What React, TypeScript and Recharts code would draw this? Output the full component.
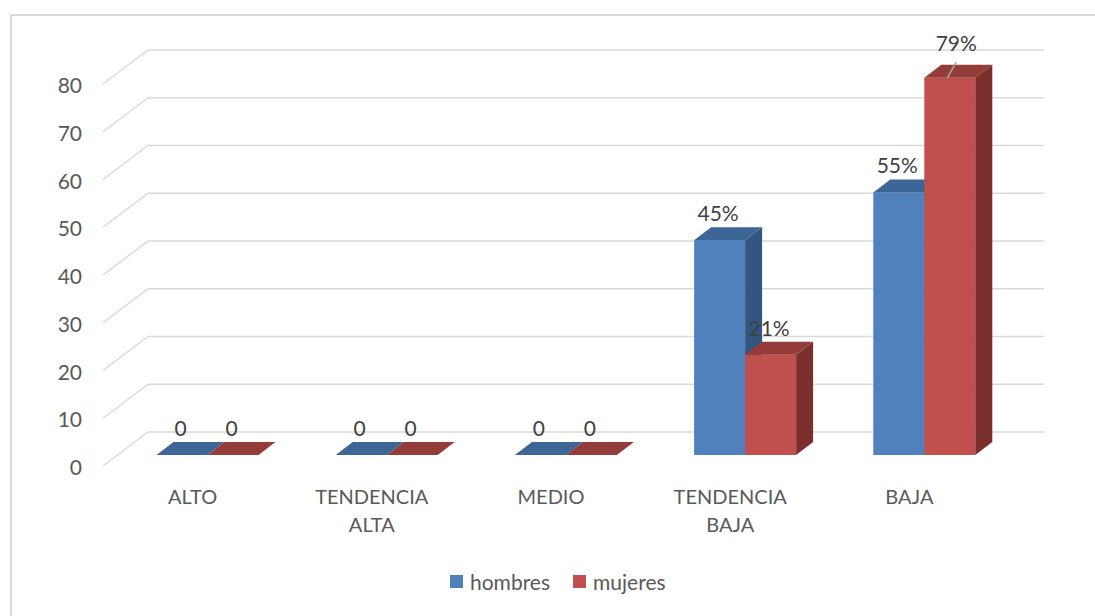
import React from 'react'
import { BarChart, Bar, XAxis, YAxis, CartesianGrid, LabelList } from 'recharts'

const categories = ['ALTO', 'TENDENCIA ALTA', 'MEDIO', 'TENDENCIA BAJA', 'BAJA']
const hombres = [0, 0, 0, 45, 55]
const mujeres = [0, 0, 0, 21, 79]
const yTicks = [0, 10, 20, 30, 40, 50, 60, 70, 80]

const data = categories.map((category, i) => ({
  category,
  hombres: hombres[i],
  mujeres: mujeres[i],
}))

const maxValue = Math.max(...hombres, ...mujeres)

const FONT = 'Lato, "Open Sans", sans-serif'
const GRID = '#D9D9D9'
const AXIS_TEXT = '#595959'
const LABEL_TEXT = '#404040'

// perspective offsets (front plane -> back wall, front plane -> bar front, bar depth)
const WALL_DX = 45
const WALL_DY = -34
const BAR_DX = 14.5
const BAR_DY = -11
const DEPTH_X = 17
const DEPTH_Y = -13

const SERIES = [
  { key: 'hombres', front: '#4F81BD', top: '#3D6696', side: '#34557F' },
  { key: 'mujeres', front: '#C0504D', top: '#933C39', side: '#7A2F2D' },
]

const make3DBar = (front: string, top: string, side: string) => (props: any) => {
  const { x, y, width, height } = props
  const h = Math.max(0, height || 0)
  const fx = x + BAR_DX
  const fy = y + BAR_DY
  const w = width
  const topPts = `${fx},${fy} ${fx + w},${fy} ${fx + w + DEPTH_X},${fy + DEPTH_Y} ${fx + DEPTH_X},${fy + DEPTH_Y}`
  const sidePts = `${fx + w},${fy} ${fx + w + DEPTH_X},${fy + DEPTH_Y} ${fx + w + DEPTH_X},${fy + h + DEPTH_Y} ${fx + w},${fy + h}`
  return (
    <g>
      {h > 0 && <rect x={fx} y={fy} width={w} height={h} fill={front} />}
      {h > 0 && <polygon points={sidePts} fill={side} />}
      <polygon points={topPts} fill={top} />
    </g>
  )
}

const renderLabel = (props: any) => {
  const vb = props.viewBox ?? props
  const { x, y, width, height } = vb
  const value = props.value
  const top = Math.min(y, y + height) + BAR_DY
  const cx = x + BAR_DX + width / 2 - 1.5
  const text = value === 0 ? '0' : `${value}%`
  if (value === maxValue) {
    return (
      <g>
        <line x1={cx - 1} y1={top} x2={cx + 8} y2={top - 16} stroke="#A6A6A6" strokeWidth={1.5} />
        <text x={cx + 8} y={top - 26.5} textAnchor="middle" fontFamily={FONT} fontSize={21} fill={LABEL_TEXT}>
          {text}
        </text>
      </g>
    )
  }
  return (
    <text x={cx} y={top - 19} textAnchor="middle" fontFamily={FONT} fontSize={21} fill={LABEL_TEXT}>
      {text}
    </text>
  )
}

const renderGridLine = (props: any) => {
  const { x1, y1, x2 } = props
  const by = y1 + WALL_DY
  return (
    <g key={`grid-${y1}`}>
      <line x1={x1} y1={y1} x2={x1 + WALL_DX} y2={by} stroke={GRID} strokeWidth={1.5} />
      <line x1={x1 + WALL_DX} y1={by} x2={x2 + WALL_DX} y2={by} stroke={GRID} strokeWidth={1.5} />
    </g>
  )
}

const YTick = (props: any) => {
  const { y, payload } = props
  return (
    <text x={82} y={y + 9} textAnchor="end" fontFamily={FONT} fontSize={21} fill={AXIS_TEXT}>
      {payload.value}
    </text>
  )
}

const XTick = (props: any) => {
  const { x, y, payload } = props
  const lines = String(payload.value).split(' ')
  return (
    <text textAnchor="middle" fontFamily={FONT} fontSize={20} fill={AXIS_TEXT}>
      {lines.map((line, i) => (
        <tspan key={i} x={x} y={y + 30 + i * 28}>
          {line}
        </tspan>
      ))}
    </text>
  )
}

function ChartLegend() {
  return (
    <div
      style={{
        position: 'absolute',
        left: 450,
        top: 569,
        display: 'flex',
        alignItems: 'center',
        fontFamily: FONT,
        fontSize: 21,
        color: AXIS_TEXT,
      }}
    >
      {SERIES.map((s, i) => (
        <div key={s.key} style={{ display: 'flex', alignItems: 'center', marginRight: i === 0 ? 23 : 0 }}>
          <span style={{ width: 13, height: 13, background: s.front, display: 'inline-block', marginRight: 7 }} />
          <span>{s.key}</span>
        </div>
      ))}
    </div>
  )
}

export default function App() {
  return (
    <div
      style={{
        position: 'absolute',
        left: 0,
        top: 0,
        width: 1095,
        height: 616,
        overflow: 'hidden',
        background: '#fff',
      }}
    >
      <div
        style={{
          position: 'absolute',
          left: 10,
          top: 14,
          width: 1120,
          height: 640,
          border: '2px solid #D9D9D9',
        }}
      />
      <div style={{ position: 'absolute', left: 0, top: 0 }}>
        <BarChart
          width={1095}
          height={616}
          data={data}
          margin={{ top: 84, right: 96, bottom: 90, left: 43 }}
          barGap={0}
          barSize={51}
        >
          <CartesianGrid horizontal={renderGridLine} vertical={false} />
          <XAxis
            dataKey="category"
            axisLine={false}
            tickLine={false}
            height={60}
            interval={0}
            tick={<XTick />}
          />
          <YAxis
            domain={[0, 80]}
            ticks={yTicks}
            interval={0}
            axisLine={false}
            tickLine={false}
            width={60}
            tick={<YTick />}
          />
          {SERIES.map((s) => (
            <Bar
              key={s.key}
              dataKey={s.key}
              isAnimationActive={false}
              shape={make3DBar(s.front, s.top, s.side)}
            >
              <LabelList dataKey={s.key} content={renderLabel} />
            </Bar>
          ))}
        </BarChart>
      </div>
      <ChartLegend />
    </div>
  )
}
